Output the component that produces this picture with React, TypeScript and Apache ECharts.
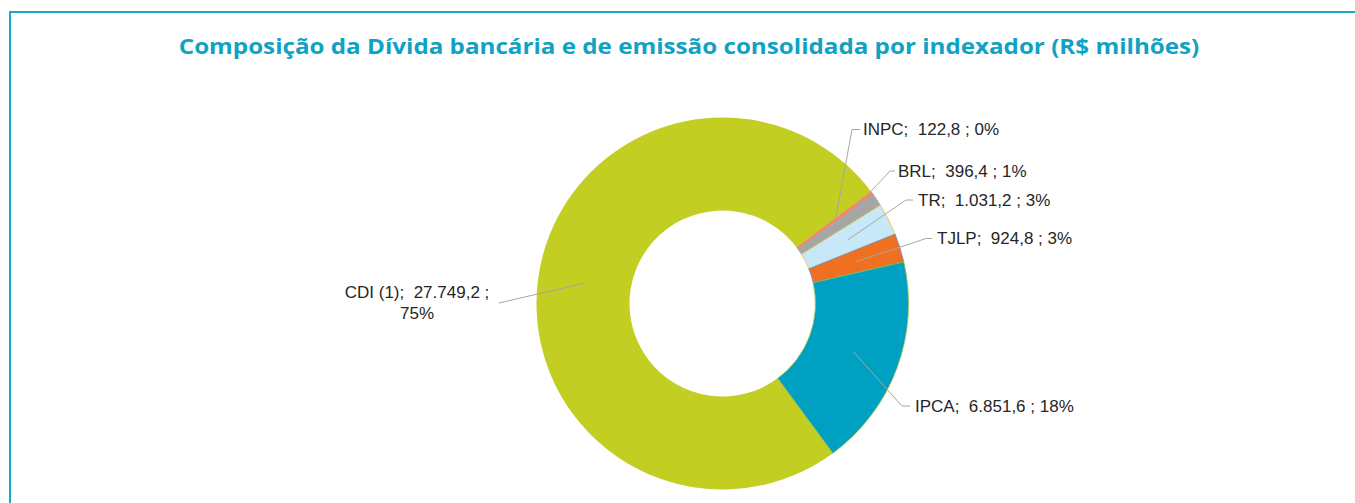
import React, { useEffect, useRef } from "react";
import * as echarts from "echarts";

const TITLE =
  "Composição da Dívida bancária e de emissão consolidada por indexador (R$ milhões)";

// Slices listed clockwise, starting with CDI
const categories = ["CDI (1)", "INPC", "BRL", "TR", "TJLP", "IPCA"];
const values = [27749.2, 122.8, 396.4, 1031.2, 924.8, 6851.6];
const percentLabels = [75, 0, 1, 3, 3, 18];

const colors = ["#c2ce22", "#f3866a", "#a6a6a6", "#c6e8f8", "#f07022", "#00a0c3"];
const borderColors = ["#c2ce22", "#f3866a", "#a6a6a6", "#f2c02a", "#5b9bd5", "#8cbf3f"];

// label placement (layout only): text anchor + leader-line bend points
const labelPlacement = [
  { x: 417, y: 303, align: "center", bend: [[499, 303], [499, 303]] },
  { x: 863, y: 129.5, align: "left", bend: [[852, 129.5], [860, 129.5]] },
  { x: 898, y: 171, align: "left", bend: [[890, 171], [895, 171]] },
  { x: 918, y: 200, align: "left", bend: [[906, 200], [913, 200]] },
  { x: 937, y: 238.5, align: "left", bend: [[926, 238.5], [932, 238.5]] },
  { x: 915, y: 406, align: "left", bend: [[902, 406], [910, 406]] },
];

const CENTER = [722.5, 303.5];
const START_ANGLE = -53.6;

function fmt(v: number): string {
  const [i, d] = v.toFixed(1).split(".");
  return i.replace(/\B(?=(\d{3})+(?!\d))/g, ".") + "," + d;
}

export default function App() {
  const ref = useRef<HTMLDivElement>(null);
  useEffect(() => {
    if (!ref.current) return;
    const chart = echarts.init(ref.current, undefined, { renderer: "svg" });
    const lineColor = "#17a9d0";
    chart.setOption({
      animation: false,
      backgroundColor: "#ffffff",
      graphic: [
        {
          type: "line",
          shape: { x1: 10, y1: 12, x2: 1355, y2: 12 },
          style: { stroke: lineColor, lineWidth: 2 },
        },
        {
          type: "line",
          shape: { x1: 10, y1: 11, x2: 10, y2: 503 },
          style: { stroke: lineColor, lineWidth: 2 },
        },
        {
          type: "text",
          x: 689,
          y: 45.5,
          scaleX: 1.1,
          style: {
            text: TITLE,
            fill: "#0fa2c4",
            fontSize: 22,
            fontWeight: "bold",
            fontFamily: "'Open Sans', sans-serif",
            align: "center",
            verticalAlign: "middle",
          },
        },
      ],
      series: [
        {
          type: "pie",
          radius: [93, 186],
          center: CENTER,
          startAngle: START_ANGLE,
          clockwise: true,
          silent: true,
          label: { show: false },
          labelLine: { show: false },
          emphasis: { disabled: true },
          data: categories.map((n, i) => ({
            name: n,
            value: values[i],
            itemStyle: {
              color: colors[i],
              borderColor: borderColors[i],
              borderWidth: i === 0 ? 0 : 0.8,
            },
          })),
          z: 2,
        },
        {
          type: "pie",
          radius: [0, 140],
          center: CENTER,
          startAngle: START_ANGLE,
          clockwise: true,
          silent: true,
          emphasis: { disabled: true },
          avoidLabelOverlap: false,
          itemStyle: { color: "rgba(0,0,0,0)" },
          label: {
            show: true,
            position: "outside",
            color: "#262626",
            fontSize: 17,
            lineHeight: 20.6,
            fontFamily: "'Liberation Sans', sans-serif",
            overflow: "none",
            formatter: (p: any) => {
              const i = p.dataIndex;
              const sep = i === 0 ? "\n" : " ";
              return `${p.name};  ${fmt(values[i])} ;${sep}${percentLabels[i]}%`;
            },
          },
          labelLine: {
            show: true,
            length: 20,
            length2: 10,
            lineStyle: { color: "#a6a6a6", width: 1 },
          },
          labelLayout: (p: any) => {
            const a = labelPlacement[p.dataIndex];
            const start =
              p.labelLinePoints && p.labelLinePoints[0]
                ? p.labelLinePoints[0]
                : a.bend[0];
            return {
              x: a.x,
              y: a.y,
              align: a.align,
              verticalAlign: "middle",
              labelLinePoints: [start, a.bend[0], a.bend[1]],
            };
          },
          data: categories.map((n, i) => ({ name: n, value: values[i] })),
          z: 3,
        },
      ],
    });
    return () => chart.dispose();
  }, []);
  return (
    <div
      ref={ref}
      style={{ position: "fixed", left: 0, top: 0, width: 1355, height: 503 }}
    />
  );
}
